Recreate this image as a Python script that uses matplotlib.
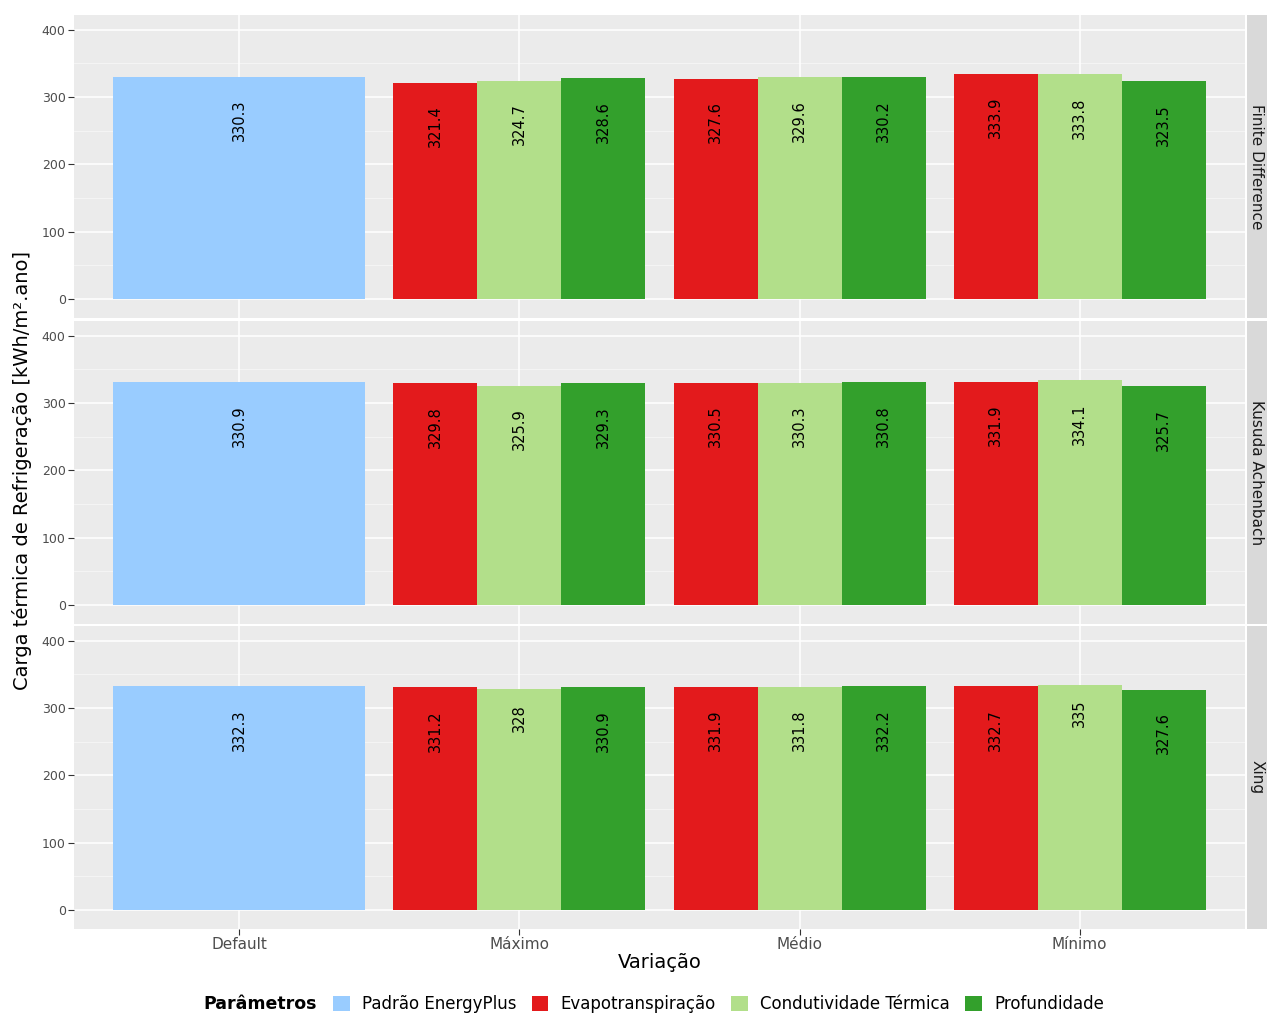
import numpy as np
import matplotlib
matplotlib.use("Agg")
import matplotlib.pyplot as plt
from matplotlib.patches import Patch
from matplotlib.transforms import ScaledTranslation

# ==============================================================================
# 1. Data
# ==============================================================================

metodos = ["Finite Difference", "Kusuda Achenbach", "Xing"]
variacoes = ["Default", "Máximo", "Médio", "Mínimo"]
parametros = ["Padrão EnergyPlus", "Evapotranspiração", "Condutividade Térmica", "Profundidade"]

# Default (Padrão EnergyPlus) per method
padrao = [330.3, 330.9, 332.3]

# Per method: values for Máximo, Médio, Mínimo
evapotranspiracao = [[321.4, 327.6, 333.9],
                     [329.8, 330.5, 331.9],
                     [331.2, 331.9, 332.7]]
condutividade = [[324.7, 329.6, 333.8],
                 [325.9, 330.3, 334.1],
                 [328.0, 331.8, 335.0]]
profundidade = [[328.6, 330.2, 323.5],
                [329.3, 330.8, 325.7],
                [330.9, 332.2, 327.6]]

# ==============================================================================
# 2. Style
# ==============================================================================

cores = ["#99CCFF", "#E31A1C", "#B2DF8A", "#33A02C"]
bg_panel = "#EBEBEB"
bg_strip = "#D9D9D9"
cor_tick = "#4D4D4D"

plt.rcParams['font.family'] = ['DejaVu Sans']

W, H = 1267, 1014
fig = plt.figure(figsize=(W / 100, H / 100), dpi=100)

px_left, px_right = 74, 1245
strip_l, strip_r = 1247, 1267
panel_tops = [15, 321, 626]
panel_h = 303

bar_w = 0.3
bar_labels = []

# ==============================================================================
# 3. Panels
# ==============================================================================

axes = []
for i, metodo in enumerate(metodos):
    top = panel_tops[i]
    ax = fig.add_axes([px_left / W, 1 - (top + panel_h) / H,
                       (px_right - px_left) / W, panel_h / H])
    axes.append(ax)
    ax.set_facecolor(bg_panel)
    for s in ax.spines.values():
        s.set_visible(False)

    # grid (ggplot-like)
    for yv in [50, 150, 250, 350]:
        ax.axhline(yv, color="#F7F7F7", lw=0.55, zorder=0)
    for yv in [0, 100, 200, 300, 400]:
        ax.axhline(yv, color="white", lw=1.1, zorder=0)
    for xv in range(1, 5):
        ax.axvline(xv, color="white", lw=1.1, zorder=0)

    # Default bar
    ax.bar(1, padrao[i], width=0.9, color=cores[0], zorder=2)
    bar_labels.append(ax.text(1, padrao[i], f"{padrao[i]:g}", rotation=90,
                              ha="center", va="top", fontsize=10.5, zorder=3))

    # Grouped bars
    series = [evapotranspiracao[i], condutividade[i], profundidade[i]]
    for k, vals in enumerate(series):
        xs = np.arange(2, 5) + (k - 1) * bar_w
        ax.bar(xs, vals, width=bar_w, color=cores[k + 1], zorder=2)
        for x, v in zip(xs, vals):
            bar_labels.append(ax.text(x, v, f"{v:g}", rotation=90,
                                      ha="center", va="top", fontsize=10.5, zorder=3))

    ax.set_xlim(0.41, 4.59)
    ax.set_ylim(-28, 422)
    ax.set_yticks([0, 100, 200, 300, 400])
    ax.tick_params(axis="y", colors="#333333", labelcolor=cor_tick,
                   labelsize=9, length=4, width=0.8, pad=2)
    ax.set_xticks(range(1, 5))
    if i == len(metodos) - 1:
        ax.set_xticklabels(variacoes)
        ax.tick_params(axis="x", colors="#333333", labelcolor=cor_tick,
                       labelsize=11, length=4, width=0.8, pad=2)
    else:
        ax.tick_params(axis="x", length=0, labelbottom=False)

    # Strip on the right
    sax = fig.add_axes([strip_l / W, 1 - (top + panel_h) / H,
                        (strip_r - strip_l) / W, panel_h / H])
    sax.set_facecolor(bg_strip)
    sax.set_xticks([])
    sax.set_yticks([])
    for s in sax.spines.values():
        s.set_visible(False)
    sax.text(0.5, 0.5, metodo, rotation=-90, ha="center", va="center",
             fontsize=11, color="#1A1A1A", transform=sax.transAxes)

# ==============================================================================
# 4. Shift bar labels (ggplot hjust = 1.5 along text direction)
# ==============================================================================

fig.canvas.draw()
renderer = fig.canvas.get_renderer()
for t in bar_labels:
    h = t.get_window_extent(renderer).height
    ax = t.axes
    t.set_transform(ax.transData + ScaledTranslation(0, -0.55 * h / fig.dpi, fig.dpi_scale_trans))

# ==============================================================================
# 5. Axis titles and legend
# ==============================================================================

fig.text(22 / W, 1 - 471 / H, "Carga térmica de Refrigeração [kWh/m².ano]",
         rotation=90, ha="center", va="center", fontsize=14, color="black")
fig.text((px_left + px_right) / 2 / W, 1 - 962 / H, "Variação",
         ha="center", va="center", fontsize=14, color="black")

fig.text(203 / W, 1 - 1004 / H, "Parâmetros", ha="left", va="center",
         fontsize=12.5, fontweight="bold", color="black")
handles = [Patch(facecolor=c, edgecolor="none") for c in cores]
fig.legend(handles, parametros, loc="center left", bbox_to_anchor=(333 / W, 1 - 1004 / H),
           ncol=4, frameon=False, fontsize=12, handlelength=1.0, handleheight=1.0,
           handletextpad=0.75, columnspacing=0.9, borderpad=0, borderaxespad=0)

fig.savefig("out.png", dpi=100)
